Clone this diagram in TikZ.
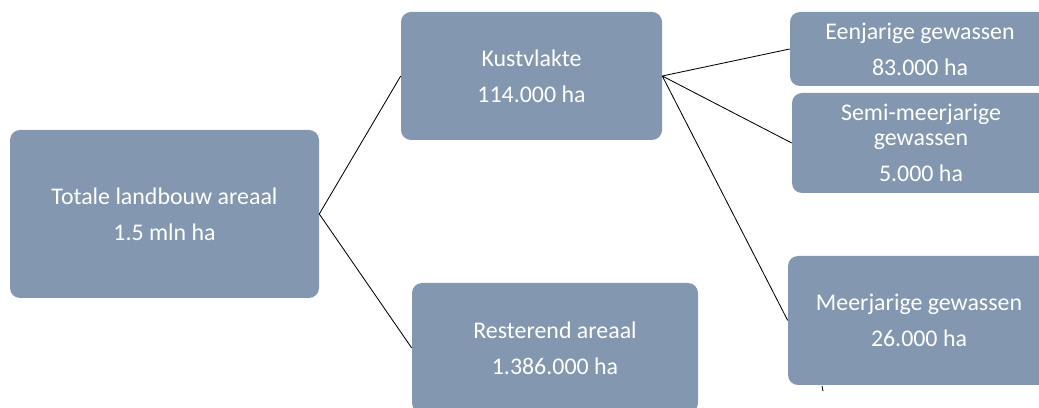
\documentclass[tikz,border=0pt]{standalone}
\usepackage{fontspec}
\setmainfont{Carlito}
\usepackage{tikz}
\definecolor{colbox}{RGB}{132,151,176}
\colorlet{colbg}{white}
\colorlet{colfg}{black}
\tikzstyle{areabox}=[rectangle, rounded corners=0.25cm, fill=colbox, text=colbg, align=center, inner sep=0pt, font=\fontsize{17}{17.8}\selectfont]
\tikzstyle{edge}=[line width=0.6pt,colfg]

\begin{document}
\begin{tikzpicture}[]
      \useasboundingbox (0,0) rectangle (25.975,-10.2);
      \clip (0,0) rectangle (25.975,-10.2);

      % Left: total area
      \node[areabox, minimum width=7.725cm, minimum height=4.2cm] (total) at (4.1125,-5.35) {Totale landbouw areaal\\[7.8pt]1.5 mln ha};

      % Middle: coastal plain and the rest
      \node[areabox, minimum width=6.525cm, minimum height=3.2cm] (kust) at (13.2875,-1.9) {Kustvlakte\\[7.8pt]114.000 ha};
      \node[areabox, minimum width=7.15cm, minimum height=3.25cm] (rest) at (13.875,-8.7) {Resterend areaal\\[7.8pt]1.386.000 ha};

      % Right: crops in the coastal plain (cut off at the edge)
      \node[areabox, minimum width=6.5cm, minimum height=1.85cm] (een) at (23.0,-1.225) {Eenjarige gewassen\\[7.8pt]83.000 ha};
      \node[areabox, minimum width=6.45cm, minimum height=2.5cm] (semi) at (23.025,-3.575) {Semi-meerjarige\\gewassen\\[7.8pt]5.000 ha};
      \node[areabox, minimum width=6.55cm, minimum height=3.225cm] (meer) at (22.975,-8.0125) {Meerjarige gewassen\\[7.8pt]26.000 ha};

      \draw[edge] (total.east) -- (kust.west) (total.east) -- (rest.west);
      \draw[edge] (kust.east) -- (een.west) (kust.east) -- (semi.west) (kust.east) -- (meer.west);

      % stray tick below the last box
      \draw[edge] (20.55,-9.65) -- (20.575,-9.78);
    \end{tikzpicture}
\end{document}
